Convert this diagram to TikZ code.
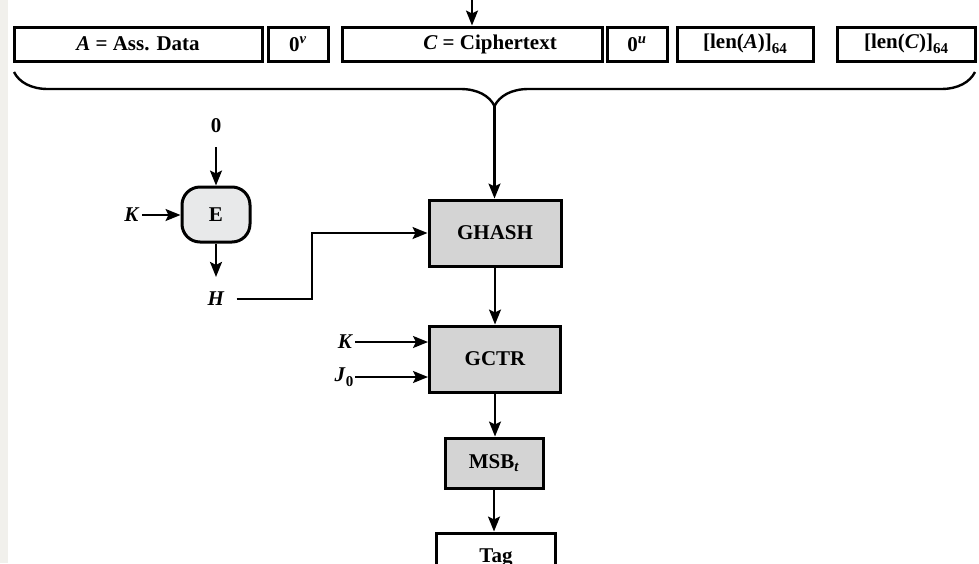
\documentclass[tikz,border=0pt]{standalone}
\usepackage{fontspec}
\setmainfont{Liberation Serif}
\usetikzlibrary{arrows.meta,decorations.pathreplacing}

\definecolor{blockgrey}{HTML}{D4D4D4}
\definecolor{encgrey}{HTML}{E8E9EA}
\definecolor{stripgrey}{HTML}{F1F0EC}

\newcommand{\lowsub}[1]{\raisebox{-5pt}{\fontsize{15}{15}\selectfont #1}}

\begin{document}
\begin{tikzpicture}[x=1pt,y=-1pt,font=\fontsize{21}{24}\selectfont\bfseries]
						\tikzstyle{field}=[draw=black,line width=3pt,fill=white,minimum height=34pt,inner sep=0pt]
						\tikzstyle{block}=[field,fill=blockgrey,minimum height=66pt]
						\tikzstyle{sig}=[inner sep=2pt]
						\tikzstyle{flow}=[line width=2.2pt,-{Stealth[length=15pt,width=12pt,inset=3pt]}]
						\fill[white](0,0) rectangle (979,563);
						\fill[stripgrey](0,0) rectangle (8,563);
						\useasboundingbox (0,0) rectangle (979,563);
						\node[field,minimum width=248pt](ad) at (138,44) {\textit{A} = Ass. Data\hspace{48pt}};
						\node[field,minimum width=60pt](zv) at (298,44) {0\textsuperscript{\textit{v}}};
						\node[field,minimum width=260pt](ct) at (472,44) {\hspace{36pt}\textit{C} = Ciphertext};
						\node[field,minimum width=60pt](zu) at (637,44) {0\textsuperscript{\textit{u}}};
						\node[field,minimum width=136pt](la) at (745,44) {[len(\textit{A})]\lowsub{64}};
						\node[field,minimum width=138pt](lc) at (906,44) {[len(\textit{C})]\lowsub{64}};
						\coordinate(top) at (472,0);
						\coordinate(bt) at (494.5,106);
						\draw[flow](top) -- (ct.north);
						\draw[line width=2.4pt,decorate,decoration={brace,mirror,amplitude=34pt}](14,72) -- (975,72);
						\node[draw=black,line width=3pt,fill=encgrey,rounded corners=18pt,minimum width=68pt,minimum height=55pt](enc) at (216,214.5) {E};
						\node[sig](zero) at (216,126) {0};
						\node[sig](k1) at (132,215) {\textit{K}};
						\node[sig](h) at (216,299) {\textit{H}};
						\node[block,minimum width=132pt](ghash) at (495,233) {GHASH};
						\node[block,minimum width=131pt](gctr) at (495,359) {GCTR};
						\node[sig](k2) at (345.5,342) {\textit{K}};
						\node[sig](j0) at (344,377) {\textit{J}\lowsub{0}};
						\node[block,minimum width=98pt,minimum height=50pt](msb) at (494,463) {MSB\textsubscript{\textit{t}}};
						\node[field,minimum width=119pt,minimum height=50pt](tag) at (496,558) {Tag};
						\draw[flow,shorten <=12pt](zero) -- (enc);
						\draw[flow](k1.east) -- (k1.east -| enc.west);
						\draw[flow,shorten >=13pt](enc) -- (h);
						\draw[flow,shorten <=10pt](h.east) -- ++(85,0) |- (ghash.west);
						\draw[flow](bt) -- (bt |- ghash.north);
						\draw[flow](ghash) -- (gctr);
						\draw[flow](k2.east) -- (k2.east -| gctr.west);
						\draw[flow](j0.east) -- (j0.east -| gctr.west);
						\draw[flow](gctr.south) -- (gctr.south |- msb.north);
						\draw[flow](msb.south) -- (msb.south |- tag.north);
					\end{tikzpicture}
\end{document}
